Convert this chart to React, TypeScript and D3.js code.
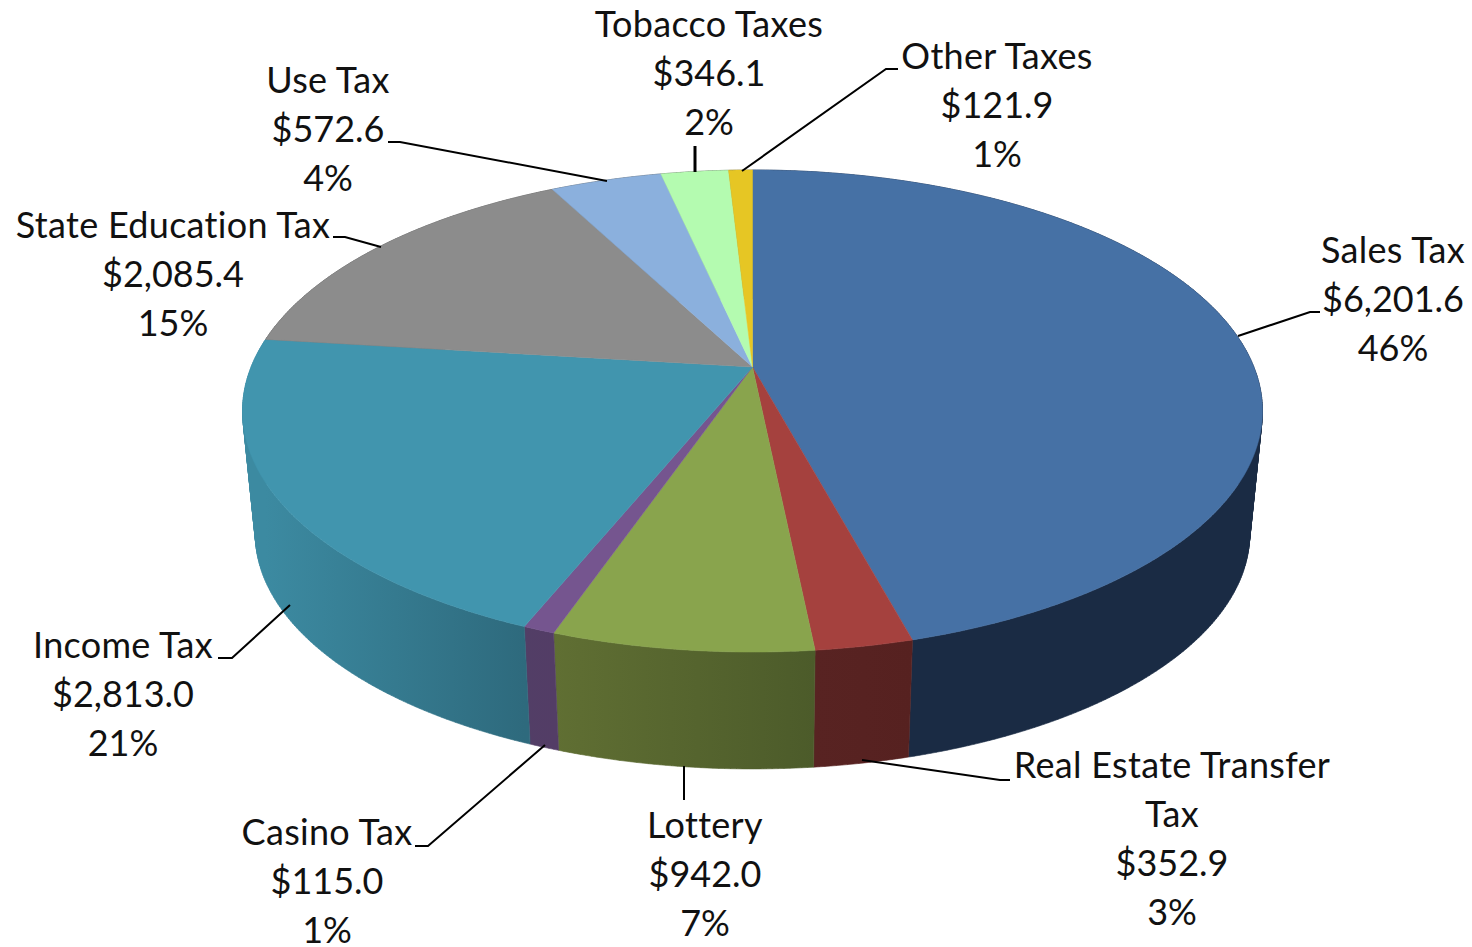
import React from "react";
import * as d3 from "d3";

const names = ["Sales Tax", "Real Estate Transfer Tax", "Lottery", "Casino Tax", "Income Tax", "State Education Tax", "Use Tax", "Tobacco Taxes", "Other Taxes"];
const values = [6201.6, 352.9, 942.0, 115.0, 2813.0, 2085.4, 572.6, 346.1, 121.9];
const percents = ["46%", "3%", "7%", "1%", "21%", "15%", "4%", "2%", "1%"];
const topColors = ["#4671a5", "#a5413e", "#89a44d", "#75558f", "#4195ae", "#8c8c8c", "#8bb0dd", "#b4fbb0", "#e6c624"];
const wallStart = ["#1b2d47", "#562120", "#4c5b2a", "#533d66", "#2e6a7d", "#555", "#555", "#555", "#555"];
const wallEnd = ["#1a2b44", "#582322", "#606f33", "#523e66", "#3c8aa1", "#555", "#555", "#555", "#555"];

// label layout: wrapped title lines, centre x, first baseline
const titleLines = [["Sales Tax"], ["Real Estate Transfer", "Tax"], ["Lottery"], ["Casino Tax"], ["Income Tax"], ["State Education Tax"], ["Use Tax"], ["Tobacco Taxes"], ["Other Taxes"]];
const labelX = [1393, 1172, 705, 327, 123, 173, 328, 709, 997];
const labelY = [263, 778, 838, 845, 658, 238, 93, 37, 69];
const leaders: number[][][] = [
  [[1238, 336], [1310, 312], [1320, 312]],
  [[862, 760], [1000, 780], [1010, 780]],
  [[684, 766], [684, 800]],
  [[545, 745], [428, 846], [415, 846]],
  [[290, 605], [232, 658], [218, 658]],
  [[381, 247], [345, 237], [333, 237]],
  [[607, 181], [400, 142], [388, 142]],
  [[695, 146], [695, 172]],
  [[742, 171], [886, 69], [898, 69]],
];
const lineHeight = 49;

// perspective model of the disc
const cx = 752.5;
const topApexY = 367;
const bottomApexY = 491;
const bottomScale = 0.975;
const persp = -0.1826;
const radiusX = 501.4;
const radiusY = 233;

function project(t: number, level: 0 | 1): [number, number] {
  const X = Math.sin(t);
  const Y = -Math.cos(t);
  const w = 1 + persp * Y;
  const s = level === 0 ? 1 : bottomScale;
  const y0 = level === 0 ? topApexY : bottomApexY;
  return [cx + (s * radiusX * X) / w, y0 + (s * radiusY * Y) / w];
}

const arcs = d3.pie<number>().sort(null).value((d) => d)(values);
const line = d3.line();
const fmt = d3.format("$,.1f");

function samples(a: number, b: number): number[] {
  const n = Math.max(2, Math.ceil((b - a) / 0.01));
  return d3.range(n + 1).map((i) => a + ((b - a) * i) / n);
}

// each strip is wound the same way, so strips that fold over at the silhouette never cancel out
function wallPath(a: number, b: number): string {
  const ts = samples(a, b);
  return d3.pairs(ts)
    .map(([u, v]) => {
      const quad = [project(u, 0), project(v, 0), project(v, 1), project(u, 1)] as [number, number][];
      const ordered = d3.polygonArea(quad) < 0 ? quad.slice().reverse() : quad;
      return line(ordered) + "Z";
    })
    .join("");
}

export default function App() {
  return (
    <svg width={1472} height={947} viewBox="0 0 1472 947" style={{ position: "absolute", left: 0, top: 0, display: "block", background: "#fff" }}>
      <defs>
        {arcs.map((a, i) => {
          const xs = samples(a.startAngle, a.endAngle).map((t) => project(t, 0)[0]);
          const startX = xs[0];
          const endX = xs[xs.length - 1];
          return (
            <linearGradient key={i} id={`w${i}`} gradientUnits="userSpaceOnUse" x1={startX} x2={endX === startX ? startX + 1 : endX} y1={0} y2={0}>
              <stop offset="0" stopColor={wallStart[i]} />
              <stop offset="1" stopColor={wallEnd[i]} />
            </linearGradient>
          );
        })}
      </defs>
      {arcs.map((a, i) => (
        <path key={i} d={wallPath(a.startAngle, a.endAngle)} fill={`url(#w${i})`} stroke={`url(#w${i})`} strokeWidth={0.6} />
      ))}
      {arcs.map((a, i) => {
        const ts = samples(a.startAngle, a.endAngle);
        const pts: [number, number][] = [[cx, topApexY], ...ts.map((t) => project(t, 0))];
        return <path key={i} d={line(pts) + "Z"} fill={topColors[i]} stroke={topColors[i]} strokeWidth={0.5} />;
      })}
      {leaders.map((l, i) => (
        <path key={i} d={line(l as [number, number][]) as string} fill="none" stroke="#000" strokeWidth={names[i] === "Tobacco Taxes" ? 3 : 2} />
      ))}
      <g fontFamily="Lato, 'Open Sans', sans-serif" fontSize={36} fill="#111" textAnchor="middle">
        {names.map((n, i) => {
          const titles = titleLines[i];
          const lines = [...titles, fmt(values[i]), percents[i]];
          return (
            <text key={n}>
              {lines.map((t, j) => (
                <tspan key={j} x={labelX[i]} y={labelY[i] + j * lineHeight} letterSpacing={j < titles.length ? 0.3 : 0}>{t}</tspan>
              ))}
            </text>
          );
        })}
      </g>
    </svg>
  );
}
